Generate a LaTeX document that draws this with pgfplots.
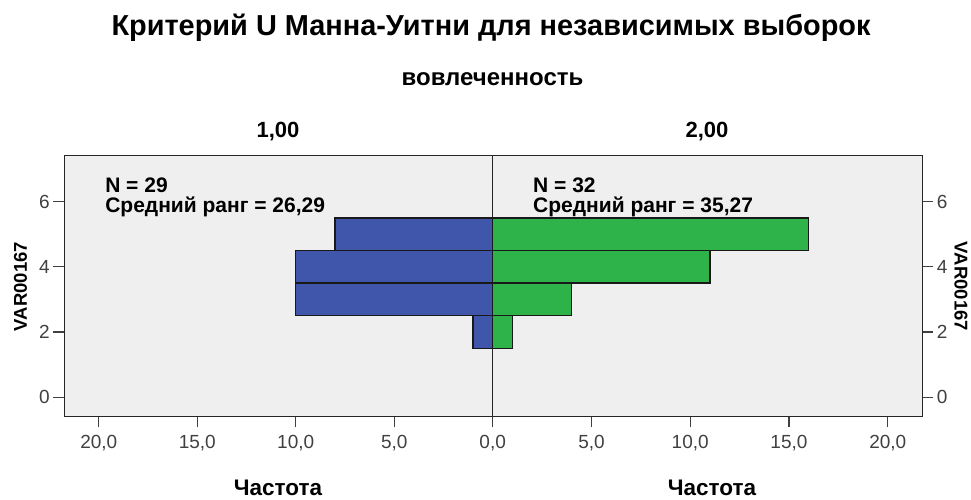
\documentclass[border=0pt]{standalone}
\usepackage{fontspec}
\setmainfont{Liberation Sans}
\usepackage{pgfplots}
\pgfplotsset{compat=1.18}

\definecolor{barblue}{HTML}{3F56AA}
\definecolor{bargreen}{HTML}{2EB34B}
\definecolor{panel}{HTML}{EFEFEF}
\definecolor{ticktxt}{HTML}{404040}
\newcommand{\fs}[1]{\fontsize{#1}{#1}\selectfont}

\pgfplotsset{
  halfhist/.style={
    scale only axis,
    height=261.2pt,
    xmin=0, xmax=21.75,
    ymin=-0.59, ymax=7.42,
    axis background/.style={fill=panel},
    axis line style={black!85, line width=1.5pt},
    xtick={0,5,10,15,20},
    xticklabels={{0,0},{5,0},{10,0},{15,0},{20,0}},
    ytick={0,2,4,6},
    yticklabels={0,2,4,6},
    xtick pos=lower,
    tick align=outside,
    major tick length=11pt,
    tick style={ticktxt, line width=1.2pt},
    tick label style={font=\fs{19}, text=ticktxt},
    xticklabel style={yshift=-4pt},
    clip=false,
  },
  halfbar/.style={xbar, bar width=1, draw=black!90, line width=1.5pt},
}
\tikzset{note/.style={anchor=west, font=\bfseries\fs{21}, inner sep=0pt}}

\begin{document}
\begin{tikzpicture}[x=1pt, y=1pt]
\useasboundingbox (0,0) rectangle (971,500);

% group 1,00 (reversed x)
\begin{axis}[halfhist,
  at={(64.3pt,83.5pt)}, anchor=south west,
  width=428.4pt,
  x dir=reverse,
  ytick pos=lower,
]
  \addplot[halfbar, fill=barblue] coordinates {
    (1,2) (10,3) (10,4) (8,5)
  };
  \node[note] at (axis cs:19.68,6.51) {N = 29};
  \node[note] at (axis cs:19.68,5.84) {Средний ранг = 26,29};
\end{axis}

% group 2,00 (its 0,0 label is the one of the left panel)
\begin{axis}[halfhist,
  at={(492.7pt,83.5pt)}, anchor=south west,
  width=429.6pt,
  xticklabels={{},{5,0},{10,0},{15,0},{20,0}},
  ytick pos=upper,
  yticklabel pos=upper,
]
  \addplot[halfbar, fill=bargreen] coordinates {
    (1,2) (4,3) (11,4) (16,5)
  };
  \node[note] at (axis cs:2.04,6.51) {N = 32};
  \node[note] at (axis cs:2.04,5.84) {Средний ранг = 35,27};
\end{axis}

\node[font=\bfseries\fs{28.9}] at (491,472) {Критерий U Манна-Уитни для независимых выборок};
\node[font=\bfseries\fs{24}] at (492.5,421) {вовлеченность};
\node[font=\bfseries\fs{22}] at (278,368) {1,00};
\node[font=\bfseries\fs{22}] at (707,368) {2,00};
\node[font=\bfseries\fs{22.5}] at (278,12) {Частота};
\node[font=\bfseries\fs{22.5}] at (712,12) {Частота};
\node[font=\bfseries\fs{18.5}, rotate=90] at (20.5,213.5) {VAR00167};
\node[font=\bfseries\fs{18.5}, rotate=-90] at (961,213.5) {VAR00167};
\end{tikzpicture}
\end{document}
